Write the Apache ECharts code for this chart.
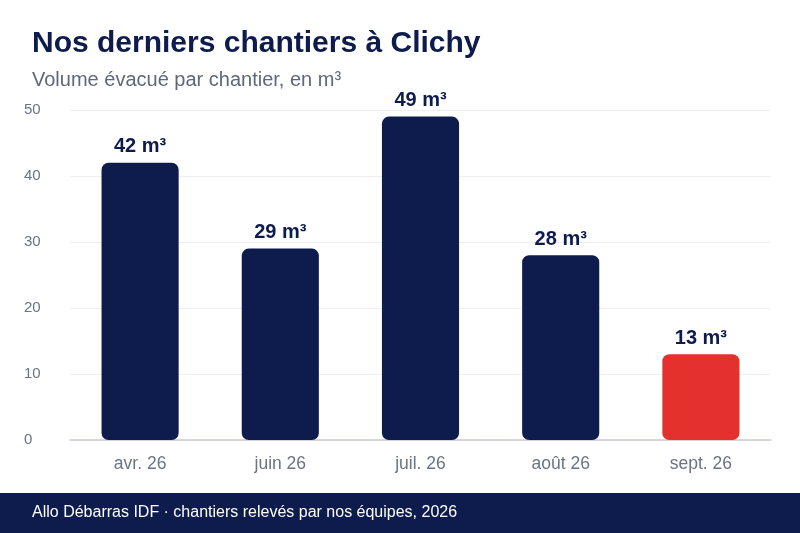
<!DOCTYPE html>
<html><head><meta charset="utf-8">
<script src="https://cdn.jsdelivr.net/npm/echarts@6/dist/echarts.min.js"></script>
<style>html,body{margin:0;padding:0;background:#fff}#c{width:800px;height:533px}</style>
</head><body><div id="c"></div>
<script>
var categories = ['avr. 26', 'juin 26', 'juil. 26', 'août 26', 'sept. 26'];
var volumes = [42, 29, 49, 28, 13];
var highlightIndex = 4;
var yTicks = [0, 10, 20, 30, 40, 50];

var NAVY = '#0e1b4d', RED = '#e4312d';
var chart = echarts.init(document.getElementById('c'), null, {renderer: 'canvas'});
chart.setOption({
  animation: false,
  backgroundColor: '#fff',
  textStyle: {fontFamily: 'Liberation Sans, Arial, sans-serif'},
  title: [{
    text: 'Nos derniers chantiers à Clichy',
    left: 27, top: 24, padding: 5,
    textStyle: {fontSize: 30, fontWeight: 'bold', color: NAVY, fontFamily: 'Liberation Sans'}
  }, {
    text: 'Volume évacué par chantier, en m³',
    left: 27, top: 65, padding: 5,
    textStyle: {fontSize: 20, fontWeight: 'normal', color: '#5f6779', fontFamily: 'Liberation Sans'}
  }],
  grid: {left: 70, right: 29, top: 110, bottom: 93, containLabel: false},
  xAxis: {
    type: 'category', data: categories,
    axisLine: {lineStyle: {color: '#c9ccd8', width: 1.5}},
    axisTick: {show: false},
    axisLabel: {color: '#6b7385', fontSize: 17.5, margin: 15, fontFamily: 'Liberation Sans'}
  },
  yAxis: {
    type: 'value', min: yTicks[0], max: yTicks[yTicks.length - 1], interval: 10,
    axisLine: {show: false}, axisTick: {show: false},
    splitLine: {lineStyle: {color: '#eeeff3', width: 1}},
    axisLabel: {color: '#6b7385', fontSize: 15, align: 'left', margin: 46, padding: [5, 0, 0, 0], fontFamily: 'Liberation Sans'}
  },
  series: [{
    type: 'bar',
    barWidth: '55%',
    data: volumes.map(function (v, i) {
      return {value: v, itemStyle: {color: i === highlightIndex ? RED : NAVY}};
    }),
    itemStyle: {borderRadius: 7},
    label: {
      show: true, position: 'top', distance: 6,
      formatter: function (p) { return p.value + ' m³'; },
      fontSize: 20, fontWeight: 'bold', color: NAVY, fontFamily: 'Liberation Sans'
    }
  }],
  graphic: [{
    type: 'rect', left: 0, top: 493, z: 10,
    shape: {width: 800, height: 40},
    style: {fill: NAVY}
  }, {
    type: 'text', left: 32, top: 505, z: 11,
    style: {text: 'Allo Débarras IDF · chantiers relevés par nos équipes, 2026', fill: '#ffffff', fontSize: 16, fontFamily: 'Liberation Sans'}
  }]
});
</script></body></html>
